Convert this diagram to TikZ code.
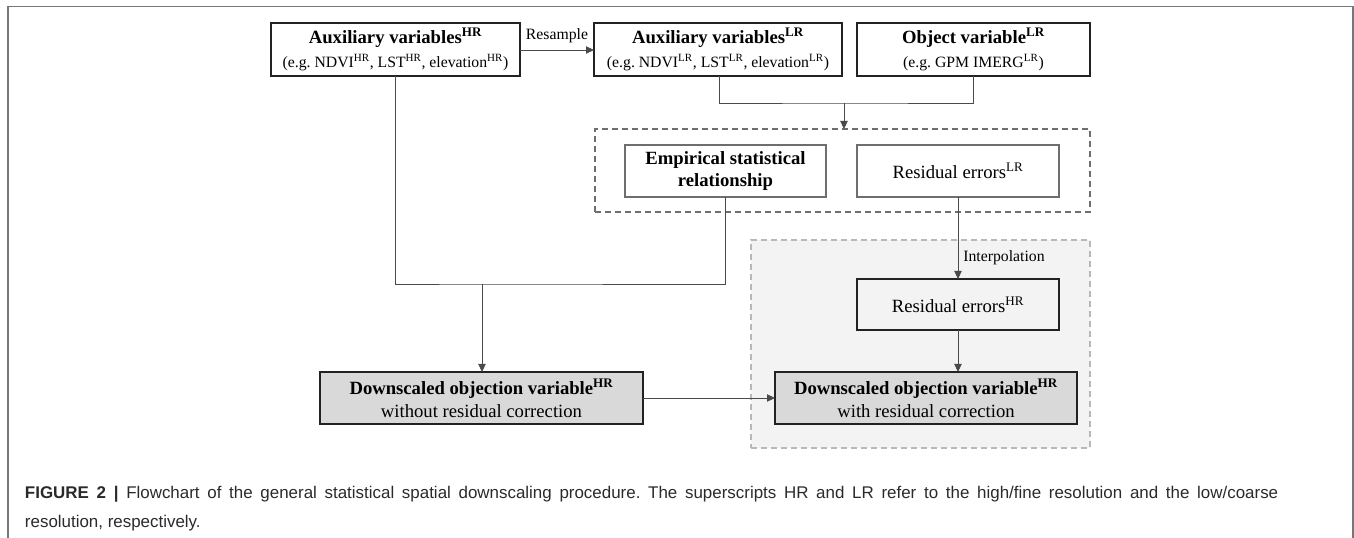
\documentclass[tikz,border=0pt]{standalone}
\usepackage{fontspec}
\setmainfont{Liberation Serif}
\newfontfamily\capfont{Liberation Sans}
\usetikzlibrary{arrows.meta}
\definecolor{framegray}{HTML}{777777}
\definecolor{boxline}{HTML}{222222}
\definecolor{softline}{HTML}{6E6E6E}
\definecolor{conn}{HTML}{4A4A4A}
\definecolor{dfill}{HTML}{D9D9D9}
\definecolor{gfill}{HTML}{F3F3F3}
\definecolor{gdash}{HTML}{B8B8B8}
\definecolor{captext}{HTML}{2A2A2A}
\newcommand{\supx}[1]{\textsuperscript{#1}}
\newcommand{\bigtxt}{\fontsize{14}{17}\selectfont}
\newcommand{\smalltxt}{\fontsize{11.8}{14}\selectfont}
\tikzset{
  every node/.style={inner sep=0pt, outer sep=0pt},
  box/.style={draw=boxline, line width=0.8pt, align=center, font=\bigtxt},
  softbox/.style={draw=softline, line width=0.8pt, align=center, font=\bigtxt},
  darkbox/.style={box, fill=dfill},
  grpone/.style={draw=softline, line width=0.8pt, dash pattern=on 4.5pt off 3pt},
  grptwo/.style={draw=gdash, fill=gfill, line width=0.8pt, dash pattern=on 4.5pt off 3pt},
  wire/.style={draw=conn, line width=0.6pt},
  arrowwire/.style={wire, -{Triangle[length=6pt,width=5.5pt]}},
  lbl/.style={font=\smalltxt},
}
\begin{document}
\frenchspacing
\begin{tikzpicture}[x=0.75pt,y=-0.75pt]
\useasboundingbox (0,0) rectangle (1354,538);
% outer frame
\draw[framegray, line width=1.1pt] (8,538) -- (8,6.5) -- (1353,6.5) -- (1353,538);

% group boxes
\node[grptwo, minimum width=254.25pt, minimum height=156pt] (G2) at (920.5,344) {};
\node[grpone, minimum width=371.25pt, minimum height=62.25pt] (G1) at (842.5,170.5) {};

% top row
\node[box, minimum width=186.75pt, minimum height=39.75pt] (A) at (395.5,49.5)
  {\textbf{Auxiliary variables\supx{HR}}\\[0.5pt]{\smalltxt(e.g. NDVI\supx{HR}, LST\supx{HR}, elevation\supx{HR})}};
\node[box, minimum width=186pt, minimum height=39.75pt] (B) at (718,49.5)
  {\textbf{Auxiliary variables\supx{LR}}\\[0.5pt]{\smalltxt(e.g. NDVI\supx{LR}, LST\supx{LR}, elevation\supx{LR})}};
\node[box, minimum width=174.75pt, minimum height=39.75pt] (C) at (973.5,49.5)
  {\textbf{Object variable\supx{LR}}\\[0.5pt]{\smalltxt(e.g. GPM IMERG\supx{LR})}};

% middle
\node[softbox, minimum width=150.75pt, minimum height=39pt] (E) at (725.5,171)
  {\textbf{Empirical statistical}\\\textbf{relationship}};
\node[softbox, minimum width=151.5pt, minimum height=39pt] (RLR) at (958,171)
  {Residual errors\supx{LR}};
\node[box, minimum width=151.5pt, minimum height=38.25pt] (RHR) at (958,304.5)
  {Residual errors\supx{HR}};

% bottom
\node[darkbox, minimum width=242.25pt, minimum height=39pt] (D1) at (481.5,398)
  {\textbf{Downscaled objection variable\supx{HR}}\\without residual correction};
\node[darkbox, minimum width=226.5pt, minimum height=39pt] (D2) at (926,398)
  {\textbf{Downscaled objection variable\supx{HR}}\\with residual correction};

% connectors
\draw[arrowwire] (A.east |- 0,50) -- node[lbl, above=5pt] (rs) {Resample} (B.west |- 0,50);

\coordinate (jBC) at (844,103);
\draw[wire] (B.south -| 719,0) |- (jBC) -| (C.south);
\draw[arrowwire] (jBC) -- (G1.north -| jBC);

\coordinate (jL) at (482,284);
\draw[wire] (A.south) |- (jL) -| (E.south);
\draw[arrowwire] (jL) -- (D1.north -| jL);

\draw[arrowwire] (RLR.south) -- node[pos=0.74, anchor=west, xshift=4pt, lbl] (ip) {Interpolation} (RHR.north);
\draw[arrowwire] (RHR.south) -- (D2.north -| RHR.south);
\draw[arrowwire] (D1.east) -- (D2.west);

% caption
\node[anchor=north west, align=justify, text width=940pt, text=captext, font=\capfont\fontsize{12.7}{22}\selectfont] (cap) at (25,486)
  {\textbf{FIGURE 2 |} Flowchart of the general statistical spatial downscaling procedure. The superscripts HR and LR refer to the high/fine resolution and the low/coarse\linebreak resolution, respectively.};
\end{tikzpicture}
\end{document}
